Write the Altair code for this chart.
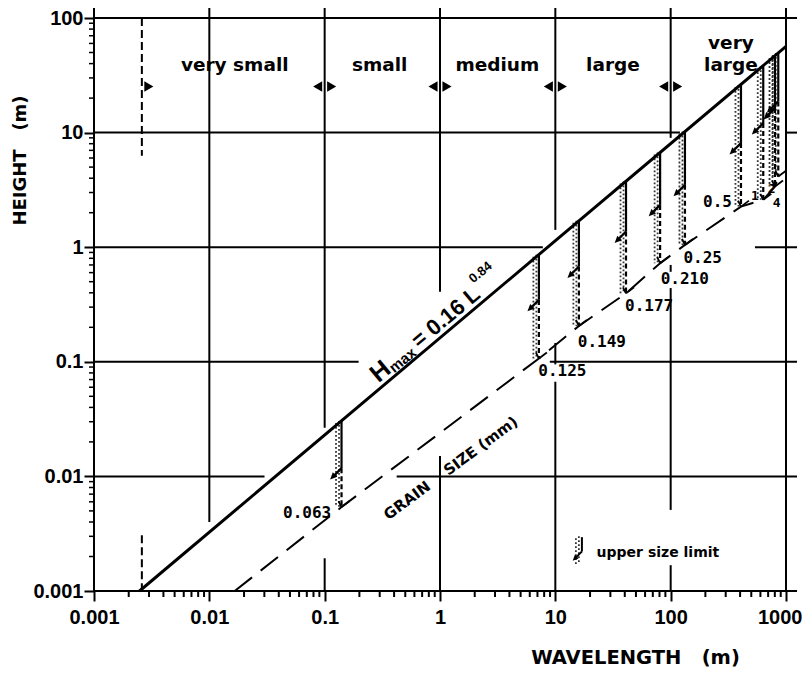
import altair as alt
import pandas as pd

# ---------------- data ----------------
hmax_L = [0.00248, 1000]
hmax_H = [0.001, 56.5]

grain_L = [0.0166, 0.14, 7.2, 16, 41, 81, 133, 407, 635, 803, 857]
grain_H = [0.001, 0.0054, 0.107, 0.2055, 0.396, 0.725, 1.047, 2.26, 2.59, 3.38, 4.14]

bar_sizes = ["0.063", "0.125", "0.149", "0.177", "0.210", "0.25", "0.5", "1", "2", "4"]
bar_L = [0.14, 7.2, 16, 41, 81, 133, 407, 635, 803, 857]
bar_top = [0.0305, 0.86, 1.7, 3.75, 6.7, 10.2, 26, 38, 46.5, 49.5]
bar_arrow = [0.0118, 0.347, 0.678, 1.37, 2.34, 3.5, 8.1, 12.1, 16.4, 18.7]
bar_bottom = [0.0054, 0.107, 0.2055, 0.396, 0.725, 1.047, 2.26, 2.59, 3.38, 4.14]
label_L = [0.0705, 11.5, 25.3, 65.0, 132.4, 189.7, 254.5, 538, 751, 830]
label_H = [0.00478, 0.0831, 0.1497, 0.3072, 0.5253, 0.8017, 2.503, 2.77, 3.21, 2.42]

class_names = ["very small", "small", "medium", "large", "very", "large"]
class_L = [0.0166, 0.30, 3.14, 31.6, 333, 333]
class_H = [39, 39, 39, 39, 61, 39]
boundary_L = [0.1, 1, 10, 100]
boundary_H = 25.3
start_L = 0.0026

# grid segments (vertical): x, from, to
v_x = [0.01, 0.1, 0.1, 1, 1, 10, 10, 10, 100, 100, 100, 100, 1000, 0.001]
v_y1 = [125, 125, 0.00193, 125, 0.01503, 125, 0.146, 0.067, 125, 0.70, 0.44, 0.00168, 125, 125]
v_y2 = [0.004, 0.0266, 0.001, 0.409, 0.001, 1.416, 0.095, 0.001, 9.0, 0.61, 0.0051, 0.001, 0.001, 0.001]
# grid segments (horizontal): y, from, to
h_y = [100, 10, 10, 1, 1, 0.1, 0.1, 0.01, 0.01, 0.001]
h_x1 = [0.001, 0.001, 1000, 0.001, 538, 0.001, 8.96, 0.001, 0.421, 0.001]
h_x2 = [1246, 120.3, 1246, 7.79, 1246, 0.197, 1246, 0.0301, 1246, 1246]
# dashed limit line at small wavelength
d_y1 = [100, 0.00307]
d_y2 = [6.27, 0.001]

x_decades = [0.001, 0.01, 0.1, 1, 10, 100, 1000]
y_decades = [0.001, 0.01, 0.1, 1, 10, 100]
x_minor = [round(k * 10 ** d, 8) for d in range(-3, 3) for k in range(2, 10)]
y_minor = [round(k * 10 ** d, 8) for d in range(-3, 2) for k in range(2, 10)]

# formula label pieces (anchors on the line)
hm_big_text = ["H"]
hm_big_L = [0.358]
hm_big_H = [0.0677]
hm_mid_text = ["= 0.16 L"]
hm_mid_L = [1.31]
hm_mid_H = [0.203]
hm_sub_text = ["max"]
hm_sub_L = [0.519]
hm_sub_H = [0.0928]
hm_sup_text = ["0.84"]
hm_sup_L = [3.05]
hm_sup_H = [0.416]

NB = "\u00a0"
grain_title = "GRAIN" + NB * 4 + "SIZE (mm)"
grain_title_L = 1.24
grain_title_H = 0.0118

legend_text = "upper size limit"
legend_L = 22.8
legend_H = 0.00215
legend_stip_L = 16.0
legend_stip_H = [0.0030, 0.00171]
legend_solid_L = 17.0
legend_solid_H = [0.00295, 0.00221]

x_title = "WAVELENGTH" + NB * 3 + "(m)"
y_title = "HEIGHT" + NB * 3 + "(m)"

# ---------------- chart ----------------
W, H = 692, 573
BOLD = "Liberation Sans"
SANS = "DejaVu Sans"
MONO = "DejaVu Sans Mono"

xscale = alt.Scale(type="log", domain=[0.001, 1000], nice=False)
yscale = alt.Scale(type="log", domain=[0.001, 100], nice=False)

LAST = "datum.value >= 999"
xaxis = alt.Axis(values=x_decades, format="~g", title=x_title, grid=False,
                 domain=False, tickSize=10, tickWidth=2, tickColor="black",
                 labelFont=BOLD, labelFontSize=20, labelFontWeight="bold", labelColor="black",
                 labelPadding=6, labelFlush=False, labelOverlap=False, labelBound=False,
                 labelAlign={"condition": {"test": LAST, "value": "right"}, "value": "center"},
                 labelOffset={"condition": {"test": LAST, "value": 16}, "value": 0},
                 titleFont=SANS, titleFontSize=19.5, titleFontWeight="bold", titleColor="black",
                 titleX=541, titleY=66, titleAlign="center", titleBaseline="middle", titleAngle=0)
yaxis = alt.Axis(values=y_decades, format="~g", title=y_title, grid=False,
                 domain=False, tickSize=10, tickWidth=2, tickColor="black",
                 labelFont=BOLD, labelFontSize=20, labelFontWeight="bold", labelColor="black",
                 labelPadding=1, labelFlush=False, labelOverlap=False, labelBound=False,
                 titleFont=SANS, titleFontSize=18, titleFontWeight="bold", titleColor="black",
                 titleX=-74, titleY=142, titleAlign="center", titleBaseline="middle", titleAngle=270)


def X(f):
    return alt.X(f, type="quantitative", scale=xscale, axis=xaxis)


def Y(f):
    return alt.Y(f, type="quantitative", scale=yscale, axis=yaxis)


vgrid = alt.Chart(pd.DataFrame({"x": v_x, "y1": v_y1, "y2": v_y2})).mark_rule(
    color="black", strokeWidth=2).encode(x=X("x"), y=Y("y1"), y2="y2")
hgrid = alt.Chart(pd.DataFrame({"y": h_y, "x1": h_x1, "x2": h_x2})).mark_rule(
    color="black", strokeWidth=2).encode(y=Y("y"), x=X("x1"), x2="x2")
dlim = alt.Chart(pd.DataFrame({"x": [start_L] * 2, "y1": d_y1, "y2": d_y2})).mark_rule(
    color="black", strokeWidth=2, strokeDash=[8, 4]).encode(x=X("x"), y=Y("y1"), y2="y2")

xminor = alt.Chart(pd.DataFrame({"v": x_minor})).mark_rule(color="black", strokeWidth=2).encode(
    x=X("v"), y=alt.value(H), y2=alt.value(H + 6))
yminor = alt.Chart(pd.DataFrame({"v": y_minor})).mark_rule(color="black", strokeWidth=1.5).encode(
    y=Y("v"), x=alt.value(-5), x2=alt.value(0))

hmax = alt.Chart(pd.DataFrame({"L": hmax_L, "H": hmax_H})).mark_line(
    color="black", strokeWidth=3).encode(x=X("L"), y=Y("H"))
grain = alt.Chart(pd.DataFrame({"L": grain_L, "H": grain_H})).mark_line(
    color="black", strokeWidth=2, strokeDash=[22, 11]).encode(x=X("L"), y=Y("H"))

bars = pd.DataFrame({"L": bar_L, "top": bar_top, "arrow": bar_arrow, "bottom": bar_bottom})
stip1 = alt.Chart(bars).mark_rule(color="#333", strokeWidth=1.8, strokeDash=[1.8, 2.2], xOffset=-2.5).encode(
    x=X("L"), y=Y("top"), y2="bottom")
stip2 = alt.Chart(bars).mark_rule(color="#333", strokeWidth=1.8, strokeDash=[1.8, 2.2], strokeDashOffset=2,
                                  xOffset=-5.5).encode(x=X("L"), y=Y("top"), y2="bottom")
solid = alt.Chart(bars).mark_rule(color="black", strokeWidth=2.2).encode(x=X("L"), y=Y("top"), y2="arrow")
dashed = alt.Chart(bars).mark_rule(color="black", strokeWidth=2.2, strokeDash=[5, 3]).encode(
    x=X("L"), y=Y("arrow"), y2="bottom")
arrows = alt.Chart(bars).mark_point(shape="arrow", angle=225, filled=True, color="black", size=260,
                                    opacity=1, xOffset=-5.7, yOffset=5.7).encode(x=X("L"), y=Y("arrow"))
chev_l = alt.Chart(bars).mark_rule(color="black", strokeWidth=1.8, xOffset=-3, yOffset=-6).encode(
    x=X("L"), y=Y("bottom"), x2="L", y2="bottom")
chev_r = alt.Chart(bars).mark_rule(color="black", strokeWidth=1.8, xOffset=8, yOffset=-6).encode(
    x=X("L"), y=Y("bottom"), x2="L", y2="bottom")

labs = pd.DataFrame({"t": bar_sizes, "L": label_L, "H": label_H})
labels_big = alt.Chart(labs.iloc[:7]).mark_text(font=MONO, fontSize=16, fontWeight="bold", color="black").encode(
    x=X("L"), y=Y("H"), text="t")
labels_small = alt.Chart(labs.iloc[7:]).mark_text(font=MONO, fontSize=13, fontWeight="bold", color="black").encode(
    x=X("L"), y=Y("H"), text="t")

classes = alt.Chart(pd.DataFrame({"t": class_names, "L": class_L, "H": class_H})).mark_text(
    font=SANS, fontSize=18.5, fontWeight="bold", color="black").encode(x=X("L"), y=Y("H"), text="t")
bnd = pd.DataFrame({"L": boundary_L, "H": [boundary_H] * len(boundary_L)})
tri_l = alt.Chart(bnd).mark_point(shape="triangle-left", filled=True, color="black", size=110, opacity=1,
                                  xOffset=-7).encode(x=X("L"), y=Y("H"))
tri_r = alt.Chart(pd.DataFrame({"L": boundary_L + [start_L], "H": [boundary_H] * 5})).mark_point(
    shape="triangle-right", filled=True, color="black", size=110, opacity=1, xOffset=7).encode(x=X("L"), y=Y("H"))

ANG = 320.15
hm_big = alt.Chart(pd.DataFrame({"t": hm_big_text, "L": hm_big_L, "H": hm_big_H})).mark_text(
    font=BOLD, fontSize=25, fontWeight="bold", angle=ANG, dy=-5, baseline="alphabetic", color="black").encode(
    x=X("L"), y=Y("H"), text="t")
hm_mid = alt.Chart(pd.DataFrame({"t": hm_mid_text, "L": hm_mid_L, "H": hm_mid_H})).mark_text(
    font=BOLD, fontSize=22, fontWeight="bold", angle=ANG, dy=-5, baseline="alphabetic", color="black").encode(
    x=X("L"), y=Y("H"), text="t")
hm_sub = alt.Chart(pd.DataFrame({"t": hm_sub_text, "L": hm_sub_L, "H": hm_sub_H})).mark_text(
    font=BOLD, fontSize=15, fontWeight="bold", angle=ANG, dy=-2, baseline="alphabetic", color="black").encode(
    x=X("L"), y=Y("H"), text="t")
hm_sup = alt.Chart(pd.DataFrame({"t": hm_sup_text, "L": hm_sup_L, "H": hm_sup_H})).mark_text(
    font=BOLD, fontSize=13, fontWeight="bold", angle=ANG, dy=-20, baseline="alphabetic", color="black").encode(
    x=X("L"), y=Y("H"), text="t")

gtitle = alt.Chart(pd.DataFrame({"t": [grain_title], "L": [grain_title_L], "H": [grain_title_H]})).mark_text(
    font=SANS, fontSize=15, fontWeight="bold", angle=323.5, baseline="middle", color="black").encode(
    x=X("L"), y=Y("H"), text="t")

leg_t = alt.Chart(pd.DataFrame({"t": [legend_text], "L": [legend_L], "H": [legend_H]})).mark_text(
    font=SANS, fontSize=14, fontWeight="bold", align="left", baseline="middle", color="black").encode(
    x=X("L"), y=Y("H"), text="t")
leg_df = pd.DataFrame({"L": [legend_stip_L], "a": [legend_stip_H[0]], "b": [legend_stip_H[1]]})
leg_stip = alt.Chart(leg_df).mark_rule(color="#333", strokeWidth=1.8, strokeDash=[1.8, 2.2]).encode(
    x=X("L"), y=Y("a"), y2="b")
leg_stip2 = alt.Chart(leg_df).mark_rule(color="#333", strokeWidth=1.8, strokeDash=[1.8, 2.2], strokeDashOffset=2,
                                        xOffset=-3).encode(x=X("L"), y=Y("a"), y2="b")
leg_solid = alt.Chart(pd.DataFrame({"L": [legend_solid_L], "a": [legend_solid_H[0]], "b": [legend_solid_H[1]]})).mark_rule(
    color="black", strokeWidth=2).encode(x=X("L"), y=Y("a"), y2="b")
leg_arrow = alt.Chart(pd.DataFrame({"L": [legend_solid_L], "H": [legend_solid_H[1]]})).mark_point(
    shape="arrow", angle=225, filled=True, color="black", size=170, opacity=1, xOffset=-4.6, yOffset=4.6).encode(
    x=X("L"), y=Y("H"))

chart = alt.layer(
    vgrid, hgrid, dlim, xminor, yminor,
    stip1, stip2, solid, dashed, arrows, chev_l, chev_r,
    grain, hmax,
    labels_big, labels_small, classes, tri_l, tri_r,
    hm_big, hm_mid, hm_sub, hm_sup, gtitle,
    leg_stip, leg_stip2, leg_solid, leg_arrow, leg_t,
).properties(
    width=W, height=H,
    autosize=alt.AutoSizeParams(type="none"),
    padding={"left": 86, "top": 10, "right": 16, "bottom": 82},
    background="white",
).configure_view(stroke=None)

chart.save("out.html", embed_options={"renderer": "svg", "actions": False})
